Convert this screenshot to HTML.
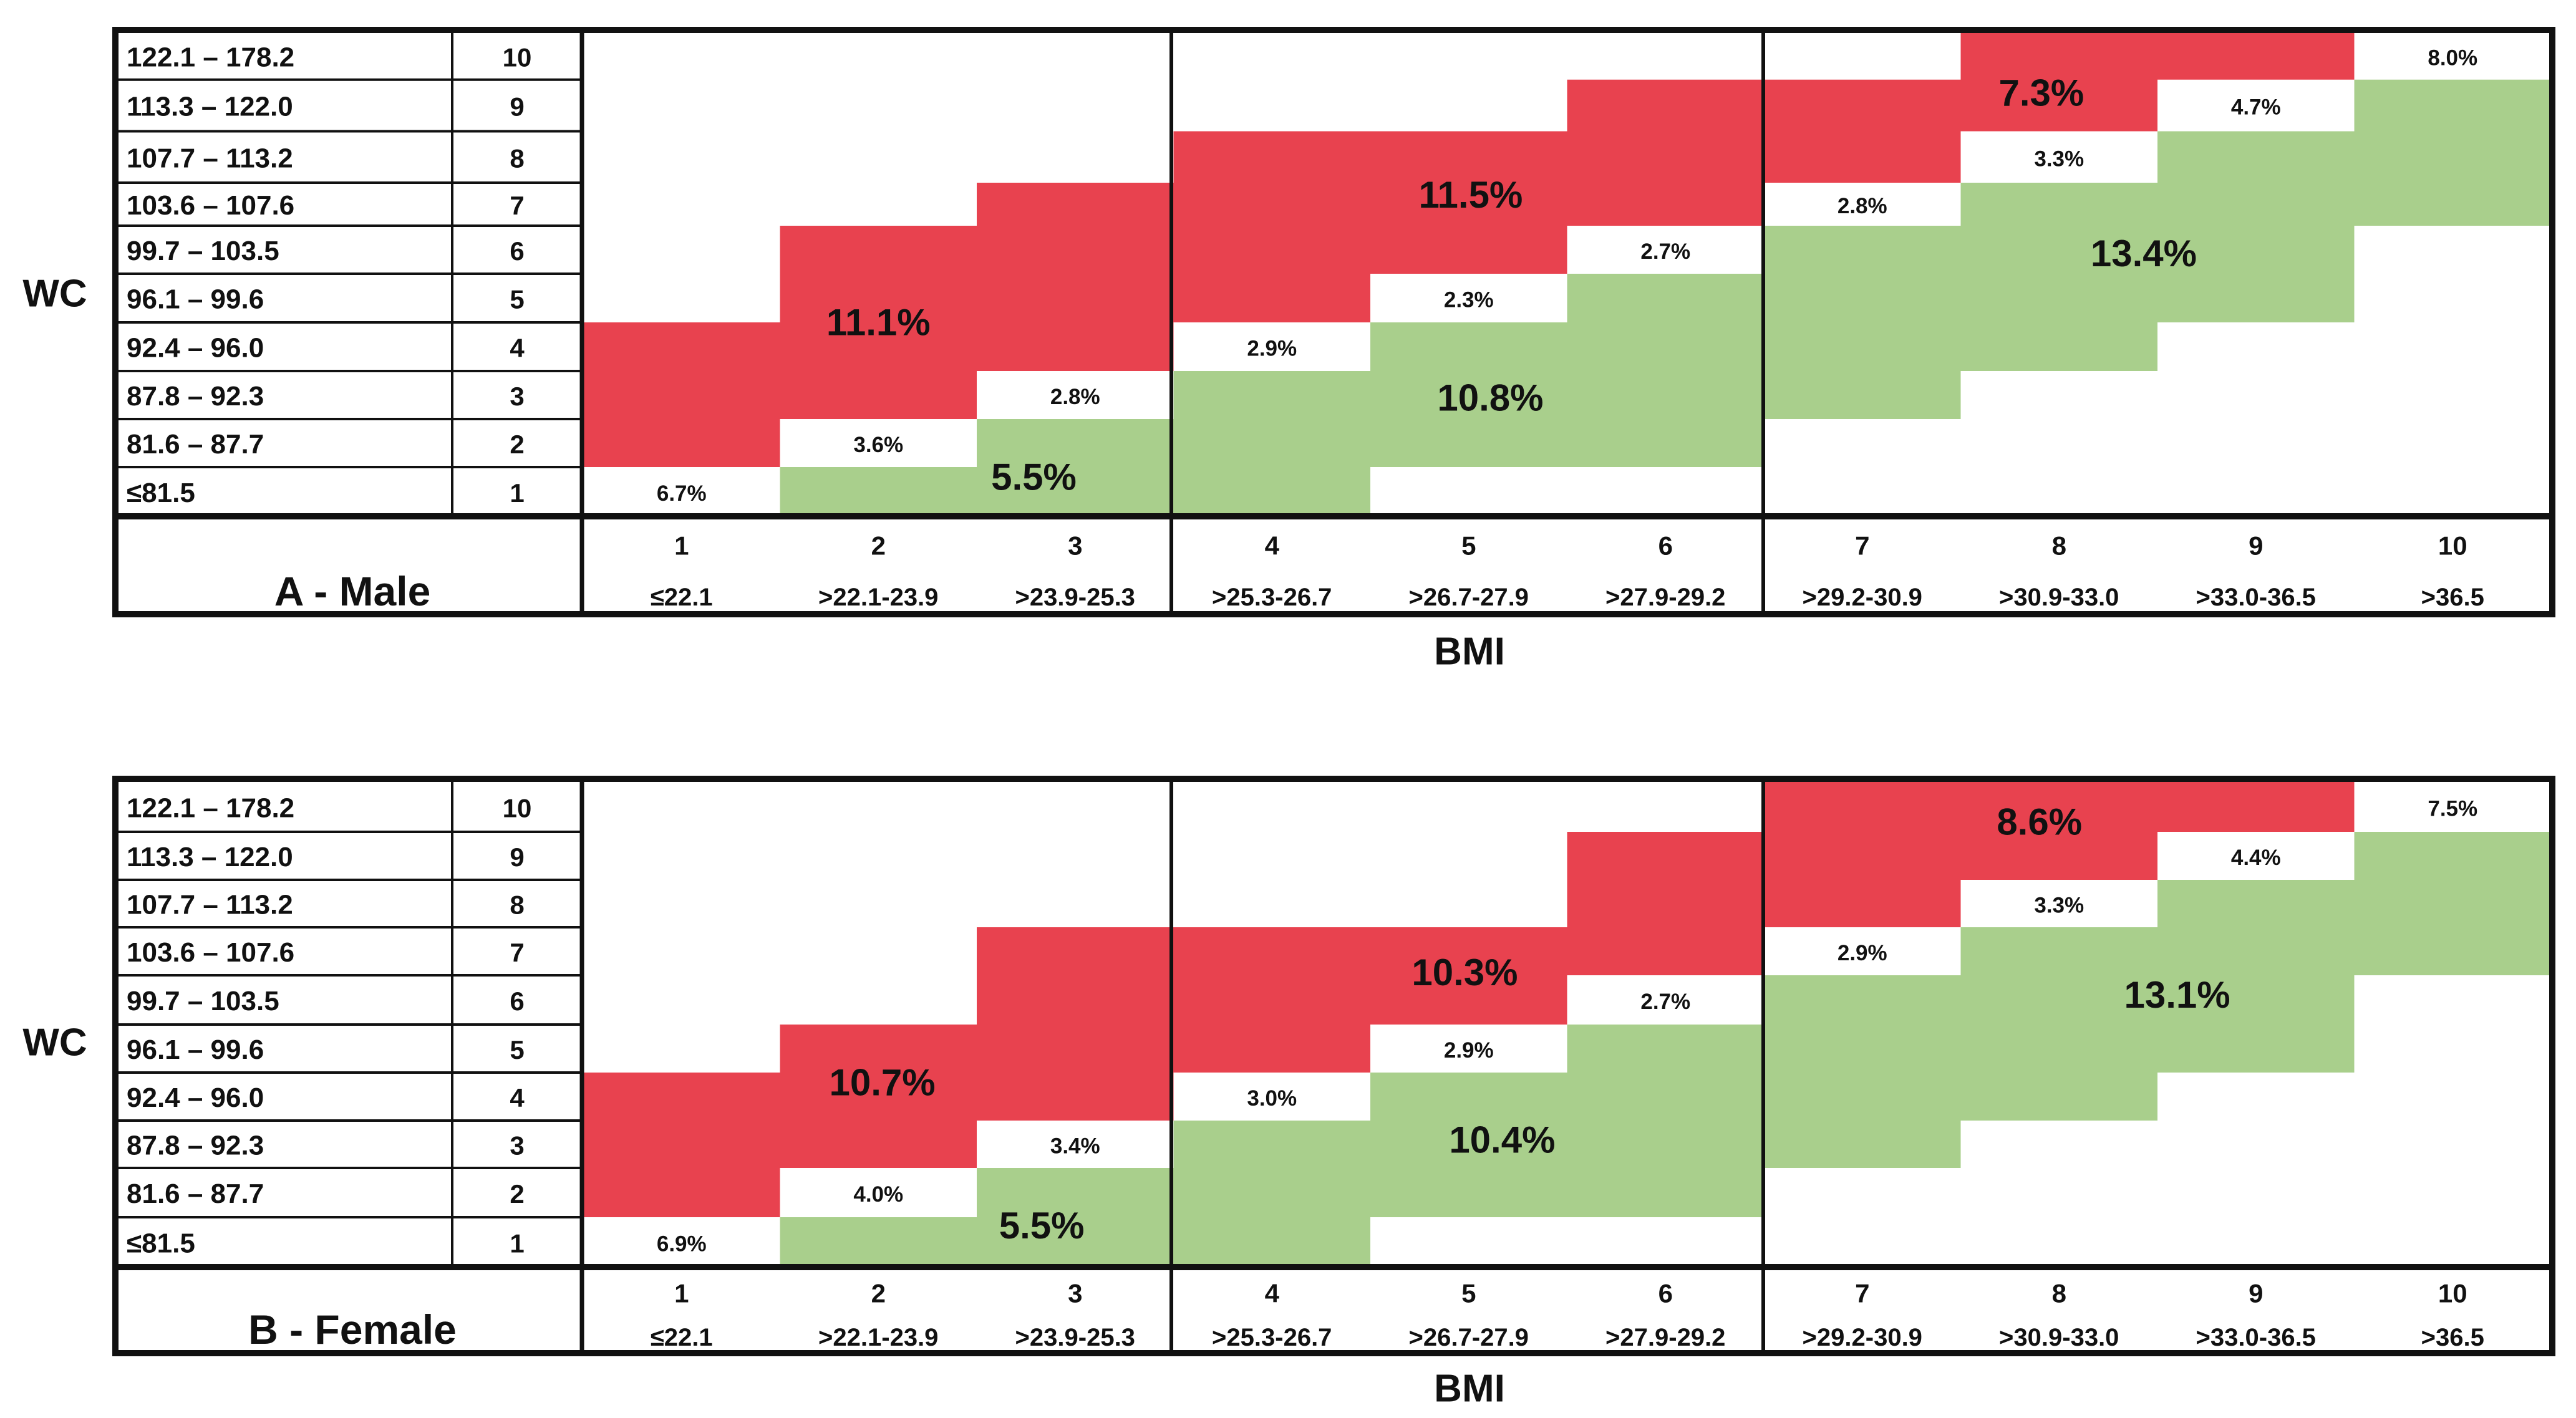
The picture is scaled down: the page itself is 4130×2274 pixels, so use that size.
<!DOCTYPE html>
<html><head><meta charset="utf-8"><style>
html,body{margin:0;padding:0;background:#fff;}
svg{display:block;font-family:"Liberation Sans",sans-serif;font-weight:bold;}
</style></head><body>
<svg id="chart" width="4130" height="2274" viewBox="0 0 4130 2274" xmlns="http://www.w3.org/2000/svg"></svg>
<script>
// ---- data ----
const wcRanges = ["≤81.5","81.6 – 87.7","87.8 – 92.3","92.4 – 96.0","96.1 – 99.6","99.7 – 103.5","103.6 – 107.6","107.7 – 113.2","113.3 – 122.0","122.1 – 178.2"];
const bmiRanges = ["≤22.1",">22.1-23.9",">23.9-25.3",">25.3-26.7",">26.7-27.9",">27.9-29.2",">29.2-30.9",">30.9-33.0",">33.0-36.5",">36.5"];
const panelTitles = ["A - Male","B - Female"];
// segments per column: [fromRow, toRow, type] (rows 1..10, inclusive)
const maleSegments = [
  [[2,4,"red"]],
  [[1,1,"green"],[3,6,"red"]],
  [[1,2,"green"],[4,7,"red"]],
  [[1,3,"green"],[5,8,"red"]],
  [[2,4,"green"],[6,8,"red"]],
  [[2,5,"green"],[7,9,"red"]],
  [[3,6,"green"],[8,9,"red"]],
  [[4,7,"green"],[9,10,"red"]],
  [[5,8,"green"],[10,10,"red"]],
  [[7,9,"green"]]
];
const femaleSegments = [
  [[2,4,"red"]],
  [[1,1,"green"],[3,5,"red"]],
  [[1,2,"green"],[4,7,"red"]],
  [[1,3,"green"],[5,7,"red"]],
  [[2,4,"green"],[6,7,"red"]],
  [[2,5,"green"],[7,9,"red"]],
  [[3,6,"green"],[8,10,"red"]],
  [[4,7,"green"],[9,10,"red"]],
  [[5,8,"green"],[10,10,"red"]],
  [[7,9,"green"]]
];
const maleSmallRows = [1,2,3,4,5,6,7,8,9,10];
const maleSmallValues = ["6.7%","3.6%","2.8%","2.9%","2.3%","2.7%","2.8%","3.3%","4.7%","8.0%"];
const femaleSmallRows = [1,2,3,4,5,6,7,8,9,10];
const femaleSmallValues = ["6.9%","4.0%","3.4%","3.0%","2.9%","2.7%","2.9%","3.3%","4.4%","7.5%"];
const maleBigValues = ["11.1%","5.5%","11.5%","10.8%","7.3%","13.4%"];
const maleBigCol = [1.5,2.29,4.51,4.61,7.41,7.93];
const maleBigRow = [4.0,0.8,6.72,2.44,8.74,5.42];
const femaleBigValues = ["10.7%","5.5%","10.3%","10.4%","8.6%","13.1%"];
const femaleBigCol = [1.52,2.33,4.48,4.67,7.40,8.10];
const femaleBigRow = [3.79,0.83,6.06,2.59,9.2,5.6];

// ---- layout ----
const NS = "http://www.w3.org/2000/svg";
const svg = document.getElementById("chart");
const COLORS = {red:"#E8424F", green:"#A9CF8C"};
const X0 = 935, X1 = 4090;
const panels = [
  {top:43, bottom:990, lines:[828,749,672,595,517,439,362,293,210.5,127.7,52.6], numY:875, rngY:958, titleY:948, bmiY:1045, wcY:471,
   seg:maleSegments, sRows:maleSmallRows, sVals:maleSmallValues, bV:maleBigValues, bC:maleBigCol, bR:maleBigRow},
  {top:1244, bottom:2175, lines:[2032,1952,1873,1797,1720,1643,1564,1487,1411,1334,1254], numY:2074, rngY:2145, titleY:2132, bmiY:2227, wcY:1672,
   seg:femaleSegments, sRows:femaleSmallRows, sVals:femaleSmallValues, bV:femaleBigValues, bC:femaleBigCol, bR:femaleBigRow}
];
function xCol(c){ return X0 + (X1 - X0) * c / 10; }
function yRow(p, v){ const i = Math.max(0, Math.min(9, Math.floor(v))); const f = v - i; return p.lines[i] + (p.lines[i+1] - p.lines[i]) * f; }
function mk(tag, attrs, parent){ const e = document.createElementNS(NS, tag); for (const k in attrs) e.setAttribute(k, attrs[k]); (parent||svg).appendChild(e); return e; }
function txt(s, x, y, size, anchor, parent){ const t = mk("text", {x:x, y:y, "font-size":size, "text-anchor":anchor||"middle", "dominant-baseline":"central", fill:"#111"}, parent); t.textContent = s; return t; }

panels.forEach((p, pi) => {
  const g = mk("g", {});
  
  
  p.seg.forEach((segs, c) => {
    segs.forEach(s => {
      const r = mk("rect", {x:xCol(c), y:yRow(p, s[1]), width:xCol(c+1)-xCol(c), height:yRow(p, s[0]-1)-yRow(p, s[1]), fill:COLORS[s[2]]}, g);
      
      
    });
  });
  p.sVals.forEach((v, c) => {
    const r = p.sRows[c];
    const t = txt(v, (xCol(c)+xCol(c+1))/2, (yRow(p, r-1)+yRow(p, r))/2 + 3, 35, "middle", g);
    
    
  });
  p.bV.forEach((v, i) => {
    const t = txt(v, xCol(p.bC[i]), yRow(p, p.bR[i]), 60, "middle", g);
    
    
  });
  const headTop = p.lines[0];
  for (let i = 1; i < 10; i++) {
    const l = mk("line", {x1:185, x2:935, y1:p.lines[i], y2:p.lines[i], stroke:"#111", "stroke-width":4}, g);
    
    
  }
  wcRanges.forEach((s, i) => {
    const cy = (p.lines[i] + p.lines[i+1]) / 2 + 2;
    const a = txt(s, 203, cy, 44, "start", g);
    
    
    const b = txt(String(i+1), 829, cy, 42, "middle", g);
    
    
  });
  [[725, p.top, headTop, 4],[933, p.top, p.bottom, 7],[1878, p.top, p.bottom, 6],[2827, p.top, p.bottom, 6]].forEach(v => {
    const l = mk("line", {x1:v[0], x2:v[0], y1:v[1], y2:v[2], stroke:"#111", "stroke-width":v[3]}, g);
    
    
  });
  const hs = mk("line", {x1:185, x2:4092, y1:headTop, y2:headTop, stroke:"#111", "stroke-width":10}, g);
  
  
  const ob = mk("rect", {x:185, y:p.top+5, width:3907, height:p.bottom-p.top-10, fill:"none", stroke:"#111", "stroke-width":10}, g);
  
  
  bmiRanges.forEach((s, c) => {
    const cx = (xCol(c)+xCol(c+1))/2;
    const n = txt(String(c+1), cx, p.numY, 42, "middle", g);
    
    
    const r = txt(s, cx, p.rngY, 40, "middle", g);
    
    
  });
  const tt = txt(panelTitles[pi], 565, p.titleY, 66, "middle", g);
  
  
  const wc = txt("WC", 88, p.wcY, 62, "middle", g);
  
  
  const bmi = txt("BMI", 2356, p.bmiY, 62, "middle", g);
  
  
});
</script>
</body></html>
